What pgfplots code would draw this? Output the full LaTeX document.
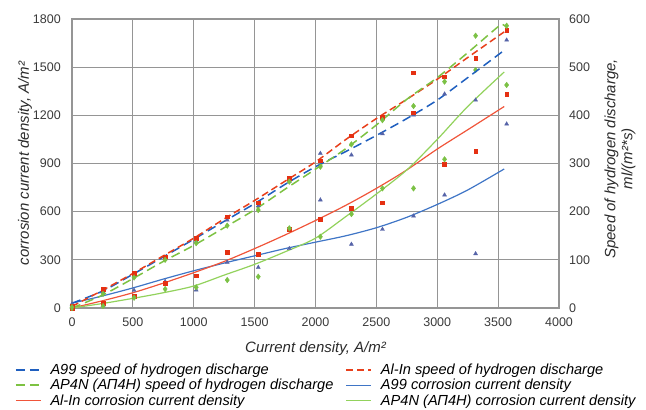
\documentclass[border=0pt]{standalone}
\usepackage{fontspec}
\setmainfont{Liberation Sans}
\usepackage{pgfplots}
\pgfplotsset{compat=1.18}
\definecolor{gridc}{HTML}{959595}
\definecolor{tickc}{HTML}{3A3A3A}
\definecolor{labc}{HTML}{2A2A2A}
\definecolor{bdash}{HTML}{1F5FBF}
\definecolor{bsol}{HTML}{3F75C6}
\definecolor{rdash}{HTML}{E8401C}
\definecolor{rsol}{HTML}{F0553A}
\definecolor{gdash}{HTML}{7DC242}
\definecolor{gsol}{HTML}{92D25C}
\definecolor{bmark}{HTML}{5563A8}
\definecolor{rmark}{HTML}{E53012}
\definecolor{gmark}{HTML}{7BC144}
\pgfplotsset{
  common/.style={
    scale only axis, width=487bp, height=289bp,
    xmin=0, xmax=4000,
    major tick length=0pt,
    axis line style={draw=gridc, line width=1.1bp},
    tick label style={font=\fontsize{12.5bp}{14bp}\selectfont, text=tickc, inner sep=0pt},
    /pgf/number format/assume math mode=true,
    /pgf/number format/1000 sep={},
    label style={font=\fontsize{15bp}{17bp}\selectfont\itshape, text=labc},
  },
}
\begin{document}
\begin{tikzpicture}
\path[use as bounding box] (-72bp,-102bp) rectangle (574bp,308bp);
% ---------- left axis: corrosion current density ----------
\begin{axis}[common,
  ymin=0, ymax=1800,
  xtick={0,500,...,4000}, ytick={0,300,...,1800},
  grid=major, major grid style={draw=gridc, line width=1.1bp},
  xticklabel shift=10bp, yticklabel shift=11bp,
  xlabel={Current density, A/m²},
  ylabel={corrosion current density, A/m²},
  xlabel style={at={(axis description cs:0.5,-0.142)}, anchor=center},
  ylabel style={at={(axis description cs:-0.0965,0.5)}, anchor=center},
]
% trend lines (corrosion)
\addplot[color=bsol, line width=1.2bp, smooth, tension=0.5] coordinates {
 (0,30) (250,75) (500,125) (750,180) (1000,232) (1250,280) (1500,325) (1750,370)
 (2000,410) (2250,450) (2500,500) (2750,565) (3000,645) (3250,735) (3550,866)};
\addplot[color=rsol, line width=1.2bp, smooth, tension=0.5] coordinates {
 (0,0) (250,45) (500,95) (750,155) (1000,220) (1250,290) (1500,370) (1750,455)
 (2000,545) (2250,640) (2500,745) (2750,860) (3000,990) (3250,1110) (3550,1255)};
\addplot[color=gsol, line width=1.2bp, smooth, tension=0.5] coordinates {
 (0,0) (250,28) (500,60) (750,95) (1000,137) (1250,205) (1500,272) (1750,350)
 (2000,435) (2250,570) (2500,710) (2750,860) (3000,1050) (3250,1255) (3550,1470)};
% measured points (corrosion)
\addplot[only marks, mark=triangle*, mark size=2.3bp, color=bmark] coordinates {
 (0,5) (255,15) (510,110) (765,165) (1020,112) (1275,285) (1530,253) (1785,370)
 (2040,673) (2295,397) (2550,490) (2805,573) (3060,704) (3315,338) (3570,1146)};
\addplot[only marks, mark=square*, mark size=1.9bp, color=rmark] coordinates {
 (0,0) (255,30) (510,75) (765,154) (1020,201) (1275,347) (1530,336) (1785,492)
 (2040,554) (2295,621) (2550,656) (2805,1466) (3060,895) (3315,978) (3570,1331)};
\addplot[only marks, mark=diamond*, mark size=2.8bp, color=gmark] coordinates {
 (0,0) (255,12) (510,64) (765,118) (1020,129) (1275,174) (1530,195) (1785,496)
 (2040,444) (2295,585) (2550,745) (2805,745) (3060,926) (3315,1482) (3570,1389)};
\end{axis}
% ---------- right axis: speed of hydrogen discharge ----------
\begin{axis}[common,
  ymin=0, ymax=600,
  ytick={0,100,...,600},
  axis x line=none, axis y line*=right,
  yticklabel shift=10bp,
  ylabel={Speed of hydrogen discharge,\\ ml/(m²*s)},
  ylabel style={at={(axis description cs:1.125,0.516)}, anchor=center, align=center},
  legend columns=2,
  legend cell align=left,
  legend image code/.code={\draw[#1] (0bp,0bp) -- (25bp,0bp);},
  legend style={at={(axis description cs:-0.117,-0.186)}, anchor=north west,
    draw=white, fill=white, inner sep=0pt, outer sep=0pt,
    font=\fontsize{14.6bp}{17bp}\selectfont\itshape,
    row sep=-0.6bp,
    /tikz/every odd column/.append style={column sep=7bp}},
]
\addplot[color=bdash, line width=1.5bp, dash pattern=on 9bp off 5bp, smooth, tension=0.5] coordinates {
 (0,10) (250,35) (500,70) (750,106) (1000,142.7) (1250,180) (1500,216.7) (1750,256.7)
 (2000,293.3) (2250,325) (2500,358.3) (2750,393.3) (3000,431.7) (3250,478.3) (3550,535)};
\addlegendentry{\makebox[293bp][l]{A99 speed of hydrogen discharge}}
\addplot[color=rdash, line width=1.5bp, dash pattern=on 7bp off 4bp, smooth, tension=0.5] coordinates {
 (0,3.3) (250,36.7) (500,71.7) (750,108.3) (1000,145) (1250,185) (1500,223.3) (1750,263.3)
 (2000,303.3) (2250,350) (2500,393.3) (2750,433.3) (3000,475) (3250,520) (3550,573.3)};
\addlegendentry{Al-In speed of hydrogen discharge}
\addplot[color=gdash, line width=1.5bp, dash pattern=on 9bp off 5bp, smooth, tension=0.5] coordinates {
 (0,0) (250,26.7) (500,61) (750,96.7) (1000,130) (1250,166.7) (1500,204) (1750,246.7)
 (2000,288.3) (2250,331) (2500,380) (2750,433.3) (3000,478.3) (3250,530) (3500,584)
 (3540,588.3) (3570,582.7)};
\addlegendentry{\makebox[293bp][l]{AP4N (АП4Н) speed of hydrogen discharge}}
\addlegendimage{color=bsol, line width=1.3bp}
\addlegendentry{A99 corrosion current density}
\addlegendimage{color=rsol, line width=1.3bp}
\addlegendentry{\makebox[293bp][l]{Al-In corrosion current density}}
\addlegendimage{color=gsol, line width=1.3bp}
\addlegendentry{AP4N (АП4Н) corrosion current density}
% measured points (hydrogen)
\addplot[forget plot, only marks, mark=triangle*, mark size=2.3bp, color=bmark] coordinates {
 (0,8.3) (255,33.3) (510,68.3) (765,103.3) (1020,138.3) (1275,182.7) (1530,212.3) (1785,263.3)
 (2040,321) (2295,317.7) (2550,361.7) (2805,400.7) (3060,444.3) (3315,431.7) (3570,556.3)};
\addplot[forget plot, only marks, mark=square*, mark size=1.9bp, color=rmark] coordinates {
 (0,3.3) (255,38.7) (510,72.7) (765,106.7) (1020,145) (1275,189.7) (1530,218.7) (1785,269.3)
 (2040,306) (2295,357.7) (2550,396.7) (2805,405.3) (3060,480.3) (3315,518.3) (3570,577)};
\addplot[forget plot, only marks, mark=diamond*, mark size=2.8bp, color=gmark] coordinates {
 (0,1.7) (255,29.3) (510,63.3) (765,100) (1020,134.7) (1275,171) (1530,203.3) (1785,262.3)
 (2040,293.3) (2295,339.7) (2550,390) (2805,419.3) (3060,470) (3315,565.3) (3570,586)};
\end{axis}
\end{tikzpicture}
\end{document}
